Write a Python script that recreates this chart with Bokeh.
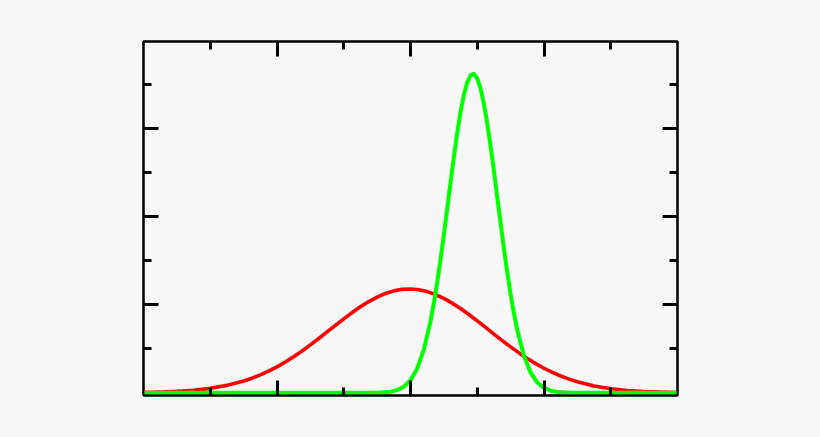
from bokeh.plotting import figure
from bokeh.models import LinearAxis, FixedTicker, Range1d
from bokeh.embed import file_html
from bokeh.resources import INLINE

# Values (x in axis units, y in axis units)
red_x = [-4.0, -3.75, -3.5, -3.25, -3.0, -2.75, -2.5, -2.375, -2.25, -2.125, -2.0,
         -1.875, -1.75, -1.625, -1.5, -1.375, -1.25, -1.125, -1.0, -0.875, -0.75,
         -0.625, -0.5, -0.375, -0.25, -0.125, 0.0, 0.125, 0.25, 0.375, 0.5, 0.625,
         0.75, 0.875, 1.0, 1.125, 1.25, 1.375, 1.5, 1.625, 1.75, 1.875, 2.0, 2.125,
         2.25, 2.375, 2.5, 2.75, 3.0, 3.25, 3.5, 3.75, 4.0]
red_y = [0.00044, 0.00087, 0.00164, 0.00297, 0.00513, 0.00849, 0.01345, 0.01665,
         0.02038, 0.02468, 0.02956, 0.03502, 0.04102, 0.04752, 0.05445, 0.06171,
         0.06917, 0.07668, 0.08406, 0.09116, 0.09776, 0.10370, 0.10878, 0.11287,
         0.11582, 0.11754, 0.11798, 0.11713, 0.11500, 0.11168, 0.10725, 0.10188,
         0.09571, 0.08893, 0.08172, 0.07428, 0.06676, 0.05936, 0.05219, 0.04539,
         0.03904, 0.03321, 0.02794, 0.02325, 0.01913, 0.01557, 0.01254, 0.00786,
         0.00472, 0.00271, 0.00149, 0.00078, 0.00039]

green_x = [-4.0, -0.5, -0.3, -0.2, -0.1, 0.0, 0.1, 0.2, 0.3, 0.35, 0.4, 0.45, 0.5,
           0.55, 0.6, 0.65, 0.7, 0.75, 0.8, 0.85, 0.9, 0.95, 1.0, 1.05, 1.1, 1.15,
           1.2, 1.25, 1.3, 1.35, 1.4, 1.45, 1.5, 1.55, 1.6, 1.7, 1.8, 1.9, 2.0,
           2.1, 2.2, 2.4, 4.0]
green_y = [0.0, 0.00018, 0.00129, 0.00309, 0.00689, 0.01428, 0.02745, 0.04905,
           0.08140, 0.10199, 0.12547, 0.15151, 0.17962, 0.20906, 0.23888, 0.26793,
           0.29504, 0.31895, 0.33847, 0.35264, 0.36070, 0.36214, 0.35700, 0.34541,
           0.32814, 0.30602, 0.28019, 0.25183, 0.22220, 0.19247, 0.16367, 0.13664,
           0.11197, 0.09010, 0.07116, 0.04200, 0.02303, 0.01172, 0.00555, 0.00244,
           0.00099, 0.00013, 0.0]

x_major = [-2, 0, 2]
x_minor = [-3, -1, 1, 3]
y_major = [0.1, 0.2, 0.3]
y_minor = [0.05, 0.15, 0.25, 0.35]

BG = "#f7f7f7"

p = figure(width=812, height=429, output_backend="svg", toolbar_location=None,
           x_range=Range1d(-4, 4), y_range=Range1d(-0.003, 0.399),
           x_axis_type=None, y_axis_type=None,
           min_border_left=143, min_border_right=135,
           min_border_top=41, min_border_bottom=34)
p.background_fill_color = BG
p.border_fill_color = BG
p.outline_line_color = "black"
p.outline_line_width = 2
p.xgrid.visible = False
p.ygrid.visible = False

def style(ax, major, minor):
    ax.ticker = FixedTicker(ticks=major, minor_ticks=minor)
    ax.major_label_overrides = {t: "" for t in major}
    ax.major_label_text_font_size = "1px"
    ax.axis_line_color = "black"
    ax.axis_line_width = 2
    ax.major_tick_in = 15
    ax.major_tick_out = 0
    ax.minor_tick_in = 8
    ax.minor_tick_out = 0
    ax.major_tick_line_width = 3
    ax.minor_tick_line_width = 3
    ax.major_tick_line_color = "black"
    ax.minor_tick_line_color = "black"
    ax.major_label_standoff = 0

for loc in ("below", "above"):
    ax = LinearAxis()
    style(ax, x_major, x_minor)
    p.add_layout(ax, loc)
for loc in ("left", "right"):
    ax = LinearAxis()
    style(ax, y_major, y_minor)
    p.add_layout(ax, loc)

p.line(red_x, red_y, line_color="#ff0000", line_width=3.6, line_join="round")
p.line(green_x, green_y, line_color="#00ff00", line_width=4, line_join="round")

html = file_html(p, INLINE, title="chart")
html = html.replace("<body>", '<body style="background:#f7f7f7;">')
open("out.html", "w").write(html)
